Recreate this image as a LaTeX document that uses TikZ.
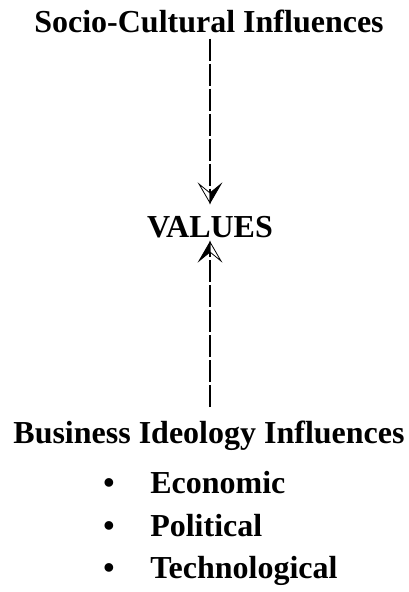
\documentclass[tikz,border=0pt]{standalone}
\usepackage{fontspec}
\setmainfont{Liberation Serif}
\usetikzlibrary{positioning}

\tikzset{
  heading/.style={font=\fontsize{24}{28}\selectfont\bfseries, inner sep=0pt, anchor=base},
  listitem/.style={heading, anchor=base west},
  dashline/.style={line width=1.5pt, dash pattern=on 16.5pt off 2.25pt},
  pics/halfhead/.style={code={
    \filldraw[fill=white, line width=0.6pt, line join=miter] (0,0) -- (0,-10) -- (-11,-19) -- cycle;
    \filldraw[fill=black, line width=0.6pt, line join=miter] (0,0) -- (11,-19) -- (0,-10) -- cycle;
  }},
}

\begin{document}
\begin{tikzpicture}[x=0.75pt,y=-0.75pt]
    \useasboundingbox (0,0) rectangle (408,592);
    \node[heading] (socio) at (209,33) {Socio-Cultural Influences};
    \node[heading] (values) at (210,237) {VALUES};
    \node[heading] (business) at (209,443) {Business Ideology Influences};
    % list of influences
    \node[listitem] (econ) at (150,493) {Economic};
    \node[listitem] (polit) at (150,536) {Political};
    \node[listitem] (tech) at (150,578) {Technological};
    \foreach \n in {econ,polit,tech}
      \node[heading] (\n-dot) at ([xshift=-30.75pt]\n.base west) {•};
    % arrow ends
    \coordinate (vtop) at (210,203);
    \coordinate (vbot) at (210,242);
    \draw[dashline, shorten <=3.75pt, shorten >=7.5pt] (socio.south -| vtop) -- (vtop);
    \draw[dashline, shorten <=9.75pt, shorten >=7.5pt] (business.north -| vbot) -- (vbot);
    \pic at (vtop) {halfhead};
    \pic[rotate=180] at (vbot) {halfhead};
\end{tikzpicture}
\end{document}
